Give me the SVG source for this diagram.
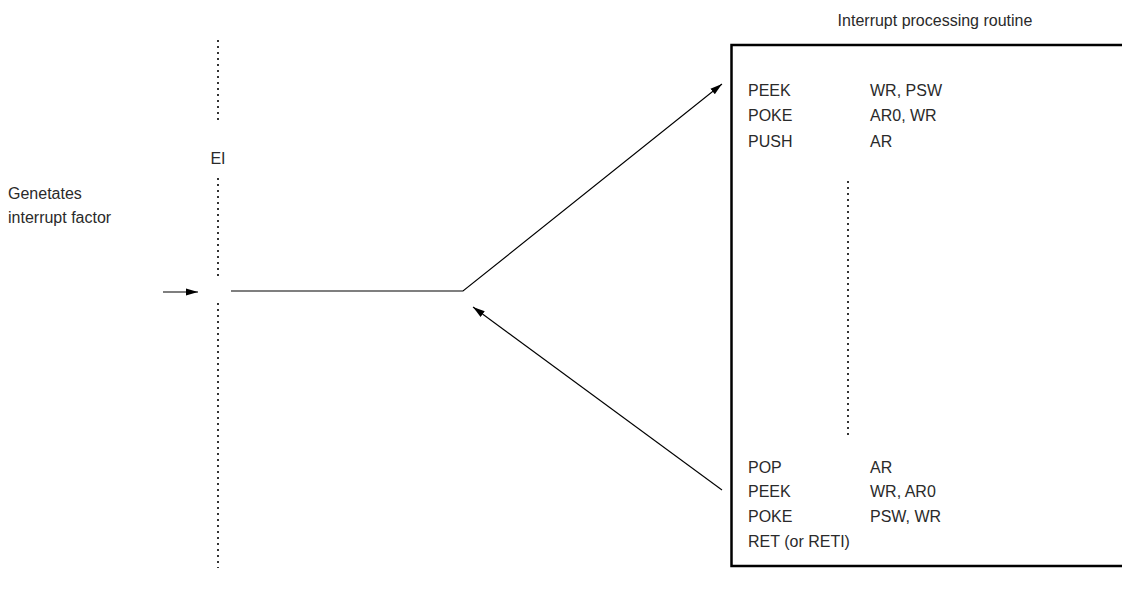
<svg xmlns="http://www.w3.org/2000/svg" width="1122" height="596" viewBox="0 0 1122 596">
<defs>
<marker id="ah" markerWidth="12" markerHeight="8" refX="12" refY="4" orient="auto" markerUnits="userSpaceOnUse">
<path d="M0,0.5 L12,4 L0,7.5 Z" fill="#000"/>
</marker>
<style>
text{font-family:"Liberation Sans",Arial,sans-serif;font-size:16px;fill:#2a2a2a}
.dot{stroke:#333;stroke-width:2;stroke-dasharray:2 4;fill:none}
.ln{stroke:#000;stroke-width:1.1;fill:none}
</style>
</defs>
<rect width="1122" height="596" fill="#fff"/>
<g id="timeline">
<line class="dot" x1="218" y1="40" x2="218" y2="124"/>
<text x="218" y="164" text-anchor="middle">EI</text>
<line class="dot" x1="218" y1="178" x2="218" y2="278"/>
<line class="dot" x1="218" y1="303" x2="218" y2="568"/>
</g>
<g id="factor">
<text x="8" y="199">Genetates</text>
<text x="8" y="223">interrupt factor</text>
</g>
<g id="routine">
<text x="935" y="26" text-anchor="middle">Interrupt processing routine</text>
<path d="M1122,45 H731.5 V566 H1122" stroke="#000" stroke-width="2.5" fill="none"/>
<text x="748" y="96">PEEK</text><text x="870" y="96">WR, PSW</text>
<text x="748" y="121">POKE</text><text x="870" y="121">AR0, WR</text>
<text x="748" y="147">PUSH</text><text x="870" y="147">AR</text>
<line class="dot" x1="848" y1="181" x2="848" y2="438"/>
<text x="748" y="473">POP</text><text x="870" y="473">AR</text>
<text x="748" y="497">PEEK</text><text x="870" y="497">WR, AR0</text>
<text x="748" y="522">POKE</text><text x="870" y="522">PSW, WR</text>
<text x="748" y="547">RET (or RETI)</text>
</g>
<g id="connectors">
<line class="ln" x1="163" y1="292" x2="198" y2="292" marker-end="url(#ah)"/>
<polyline class="ln" points="231,291 463,291 722,84" marker-end="url(#ah)"/>
<line class="ln" x1="722" y1="490" x2="473" y2="307" marker-end="url(#ah)"/>
</g>
</svg>
